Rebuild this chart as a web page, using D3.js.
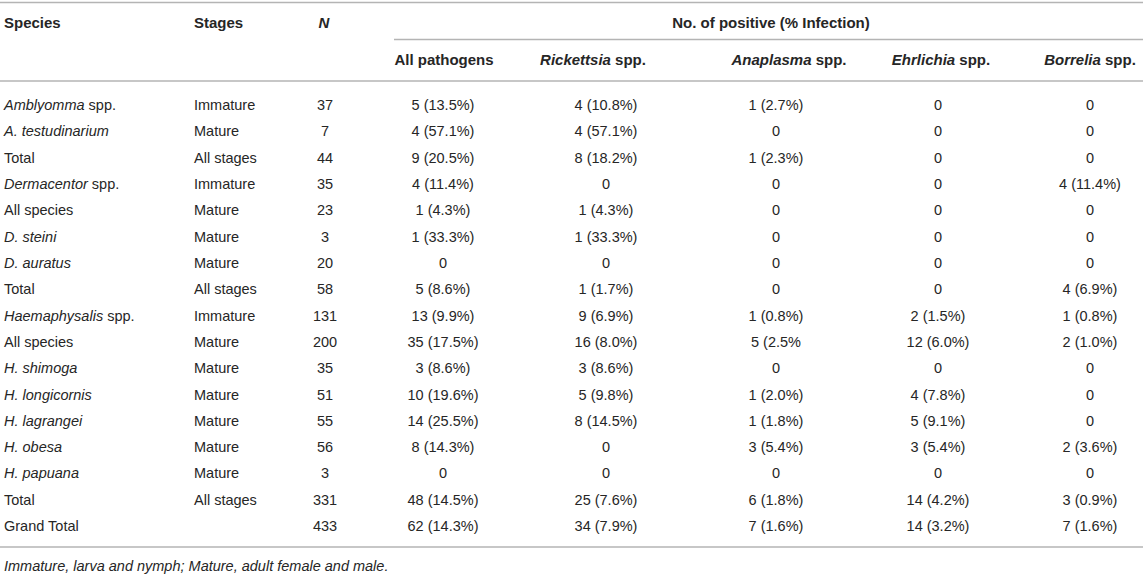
<!DOCTYPE html>
<html>
<head>
<meta charset="utf-8">
<script src="https://cdn.jsdelivr.net/npm/d3@7"></script>
<style>
	body { margin: 0; background: #fff; }
	svg text { font-family: "Liberation Sans", Arial, Helvetica, sans-serif; fill: #262626; }
</style>
</head>
<body>
<script>
var width = 1143,
		height = 574,
		fontSize = 14.5,
		headSize = 15;

// table data, *...* marks italic part
var species = ["*Amblyomma* spp.", "*A. testudinarium*", "Total", "*Dermacentor* spp.", "All species",
	"*D. steini*", "*D. auratus*", "Total", "*Haemaphysalis* spp.", "All species", "*H. shimoga*",
	"*H. longicornis*", "*H. lagrangei*", "*H. obesa*", "*H. papuana*", "Total", "Grand Total"];
var stages = ["Immature", "Mature", "All stages", "Immature", "Mature", "Mature", "Mature", "All stages",
	"Immature", "Mature", "Mature", "Mature", "Mature", "Mature", "Mature", "All stages", ""];
var n = [37, 7, 44, 35, 23, 3, 20, 58, 131, 200, 35, 51, 55, 56, 3, 331, 433];
var allPathogens = ["5 (13.5%)", "4 (57.1%)", "9 (20.5%)", "4 (11.4%)", "1 (4.3%)", "1 (33.3%)", "0", "5 (8.6%)",
	"13 (9.9%)", "35 (17.5%)", "3 (8.6%)", "10 (19.6%)", "14 (25.5%)", "8 (14.3%)", "0", "48 (14.5%)", "62 (14.3%)"];
var rickettsia = ["4 (10.8%)", "4 (57.1%)", "8 (18.2%)", "0", "1 (4.3%)", "1 (33.3%)", "0", "1 (1.7%)",
	"9 (6.9%)", "16 (8.0%)", "3 (8.6%)", "5 (9.8%)", "8 (14.5%)", "0", "0", "25 (7.6%)", "34 (7.9%)"];
var anaplasma = ["1 (2.7%)", "0", "1 (2.3%)", "0", "0", "0", "0", "0",
	"1 (0.8%)", "5 (2.5%", "0", "1 (2.0%)", "1 (1.8%)", "3 (5.4%)", "0", "6 (1.8%)", "7 (1.6%)"];
var ehrlichia = ["0", "0", "0", "0", "0", "0", "0", "0",
	"2 (1.5%)", "12 (6.0%)", "0", "4 (7.8%)", "5 (9.1%)", "3 (5.4%)", "0", "14 (4.2%)", "14 (3.2%)"];
var borrelia = ["0", "0", "0", "4 (11.4%)", "0", "0", "0", "4 (6.9%)",
	"1 (0.8%)", "2 (1.0%)", "0", "0", "0", "2 (3.6%)", "0", "3 (0.9%)", "7 (1.6%)"];

var columns = ["species", "stages", "n", "all", "rick", "anap", "ehrl", "borr"];
var headers = ["Species", "Stages", "*N*", "All pathogens", "*Rickettsia* spp.", "*Anaplasma* spp.",
	"*Ehrlichia* spp.", "*Borrelia* spp."];
var groupHeader = "No. of positive (% Infection)";
var footnote = "Immature, larva and nymph; Mature, adult female and male.";

var rows = species.map(function (s, i) {
	return [s, stages[i], String(n[i]), allPathogens[i], rickettsia[i], anaplasma[i], ehrlichia[i], borrelia[i]];
});

// layout scales
var y = d3.scalePoint()
	.domain(d3.range(rows.length))
	.range([105, 526]);

var xData = d3.scaleOrdinal()
	.domain(columns)
	.range([4, 194, 325, 443, 606, 776, 938, 1090]);

var xHead = d3.scaleOrdinal()
	.domain(columns)
	.range([4, 194, 324, 444, 593, 789, 941, 1090]);

var anchor = function (k) { return (k == "species" || k == "stages") ? "start" : "middle"; };

var svg = d3.select("body").append("svg")
	.attr("width", width)
	.attr("height", height);

// write text with *italic* segments as tspans
function rich(sel, str) {
	var parts = str.split("*");
	parts.forEach(function (p, i) {
		if (p === "") return;
		sel.append("tspan")
			.style("font-style", i % 2 == 1 ? "italic" : "normal")
			.text(p);
	});
}

/******************** RULES ********************/
var rules = [
	{x1: 0, x2: width, y: 2.5},
	{x1: 394, x2: width, y: 39.5},
	{x1: 0, x2: width, y: 81},
	{x1: 0, x2: width, y: 547}
];
svg.selectAll(".rule")
	.data(rules)
	.enter()
	.append("line")
	.attr("class", "rule")
	.attr("x1", function (d) { return d.x1; })
	.attr("x2", function (d) { return d.x2; })
	.attr("y1", function (d) { return d.y; })
	.attr("y2", function (d) { return d.y; })
	.style("stroke", "#b4b4b4")
	.style("stroke-width", 1.3);

/******************** HEADER ********************/
var headRowY = function (k) { return (k == "species" || k == "stages" || k == "n") ? 23 : 60; };

svg.selectAll(".head")
	.data(columns)
	.enter()
	.append("text")
	.attr("class", "head")
	.attr("x", function (k) { return xHead(k); })
	.attr("y", function (k) { return headRowY(k); })
	.attr("dy", "0.35em")
	.attr("text-anchor", anchor)
	.style("font-size", headSize + "px")
	.style("font-weight", "bold")
	.each(function (k, i) { rich(d3.select(this), headers[i]); });

svg.append("text")
	.attr("x", 771)
	.attr("y", 23)
	.attr("dy", "0.35em")
	.attr("text-anchor", "middle")
	.style("font-size", headSize + "px")
	.style("font-weight", "bold")
	.text(groupHeader);

/******************** BODY ********************/
var tr = svg.selectAll(".row")
	.data(rows)
	.enter()
	.append("g")
	.attr("class", "row")
	.attr("transform", function (d, i) { return "translate(0," + y(i) + ")"; });

tr.selectAll("text")
	.data(function (d) { return d.map(function (v, j) { return {key: columns[j], value: v}; }); })
	.enter()
	.append("text")
	.attr("x", function (c) { return xData(c.key); })
	.attr("dy", "0.35em")
	.attr("text-anchor", function (c) { return anchor(c.key); })
	.style("font-size", fontSize + "px")
	.each(function (c) { rich(d3.select(this), c.value); });

/******************** FOOTNOTE ********************/
svg.append("text")
	.attr("x", 4)
	.attr("y", 566)
	.attr("dy", "0.35em")
	.style("font-size", fontSize + "px")
	.style("font-style", "italic")
	.text(footnote);
</script>
</body>
</html>
